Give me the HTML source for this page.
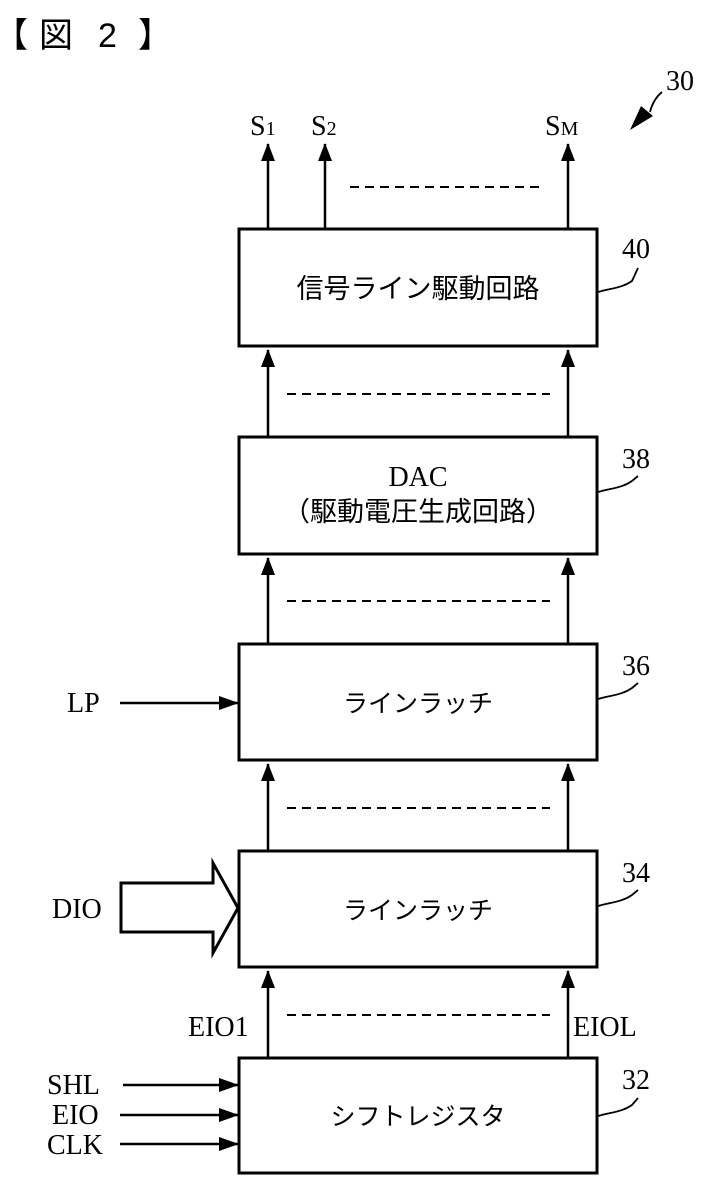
<!DOCTYPE html>
<html><head><meta charset="utf-8"><style>
html,body{margin:0;padding:0;background:#fff;}
svg{display:block;}
.l{font-family:"Liberation Serif",serif;font-size:28px;fill:#000;}
.j{font-family:"Liberation Sans","Noto Sans CJK JP",sans-serif;font-size:27px;fill:#000;}
</style></head><body>
<svg width="703" height="1180" viewBox="0 0 703 1180" xmlns="http://www.w3.org/2000/svg">
<defs><marker id="a" markerWidth="14" markerHeight="18" refX="7" refY="1" orient="0" markerUnits="userSpaceOnUse"><path d="M0,18 L7,0 L14,18 Z" fill="#000"/></marker>
<marker id="r" markerWidth="20" markerHeight="14" refX="19" refY="7" orient="0" markerUnits="userSpaceOnUse"><path d="M0,0 L20,7 L0,14 Z" fill="#000"/></marker></defs>
<text x="-6" y="47" style="font-family:'Noto Sans CJK JP',sans-serif;font-size:34px">【</text>
<text x="39" y="47" style="font-family:'Noto Sans CJK JP',sans-serif;font-size:34px">図</text>
<text x="98" y="47" style="font-family:'Liberation Sans',sans-serif;font-size:34px">2</text>
<text x="138" y="47" style="font-family:'Noto Sans CJK JP',sans-serif;font-size:34px">】</text>
<g fill="none" stroke="#000" stroke-width="3">
<rect x="239" y="229" width="358" height="117"/>
<rect x="239" y="437" width="358" height="117"/>
<rect x="239" y="644" width="358" height="116"/>
<rect x="239" y="851" width="358" height="116"/>
<rect x="239" y="1058" width="358" height="115"/>
</g>
<g stroke="#000" stroke-width="2.5" marker-end="url(#a)">
<line x1="268" y1="229" x2="268" y2="144"/>
<line x1="325" y1="229" x2="325" y2="144"/>
<line x1="568" y1="229" x2="568" y2="144"/>
<line x1="268" y1="437" x2="268" y2="350"/>
<line x1="568" y1="437" x2="568" y2="350"/>
<line x1="268" y1="644" x2="268" y2="558"/>
<line x1="568" y1="644" x2="568" y2="558"/>
<line x1="268" y1="851" x2="268" y2="764"/>
<line x1="568" y1="851" x2="568" y2="764"/>
<line x1="268" y1="1058" x2="268" y2="971"/>
<line x1="568" y1="1058" x2="568" y2="971"/>
</g>
<g stroke="#000" stroke-width="2" stroke-dasharray="9,6">
<line x1="350" y1="187" x2="545" y2="187"/>
<line x1="287" y1="394" x2="550" y2="394"/>
<line x1="287" y1="601" x2="550" y2="601"/>
<line x1="287" y1="808" x2="550" y2="808"/>
<line x1="287" y1="1015" x2="550" y2="1015"/>
</g>
<g stroke="#000" stroke-width="2.5" marker-end="url(#r)">
<line x1="120" y1="703" x2="238" y2="703"/>
<line x1="123" y1="1085" x2="238" y2="1085"/>
<line x1="120" y1="1115" x2="238" y2="1115"/>
<line x1="120" y1="1144" x2="238" y2="1144"/>
</g>
<path d="M121,883 L213,883 L213,863 L238,908 L213,953 L213,932 L121,932 Z" fill="none" stroke="#000" stroke-width="3"/>
<g fill="none" stroke="#000" stroke-width="1.8">
<path d="M598,292 C612,288 622,288 632,281 L638,268"/>
<path d="M598,492 C612,488 622,488 632,481 L638,476"/>
<path d="M598,699 C612,695 622,695 632,688 L638,683"/>
<path d="M598,906 C612,902 622,902 632,895 L638,890"/>
<path d="M598,1116 C612,1112 622,1112 632,1105 L638,1098"/>
<path d="M662,92 C656,97 652,104 650,112"/>
</g>
<path d="M630,130 L641,106 L653,116 Z" fill="#000"/>
<text class="l" x="666" y="90">30</text>
<text class="l" x="622" y="258">40</text>
<text class="l" x="622" y="468">38</text>
<text class="l" x="622" y="675">36</text>
<text class="l" x="622" y="882">34</text>
<text class="l" x="622" y="1089">32</text>
<text class="l" x="250" y="135">S<tspan font-size="20">1</tspan></text>
<text class="l" x="311" y="135">S<tspan font-size="20">2</tspan></text>
<text class="l" x="545" y="135">S<tspan font-size="20">M</tspan></text>
<text class="j" x="418" y="298" text-anchor="middle">信号ライン駆動回路</text>
<text class="l" x="418" y="486" text-anchor="middle">DAC</text>
<text class="j" x="418" y="521" text-anchor="middle">（駆動電圧生成回路）</text>
<text class="j" x="418" y="712" text-anchor="middle" style="font-size:25px">ラインラッチ</text>
<text class="j" x="418" y="919" text-anchor="middle" style="font-size:25px">ラインラッチ</text>
<text class="j" x="418" y="1125" text-anchor="middle" style="font-size:25px">シフトレジスタ</text>
<text class="l" x="67" y="712">LP</text>
<text class="l" x="52" y="918">DIO</text>
<text class="l" x="188" y="1036">EIO1</text>
<text class="l" x="573" y="1036">EIOL</text>
<text class="l" x="47" y="1094">SHL</text>
<text class="l" x="52" y="1124">EIO</text>
<text class="l" x="47" y="1154">CLK</text>
</svg>
</body></html>
